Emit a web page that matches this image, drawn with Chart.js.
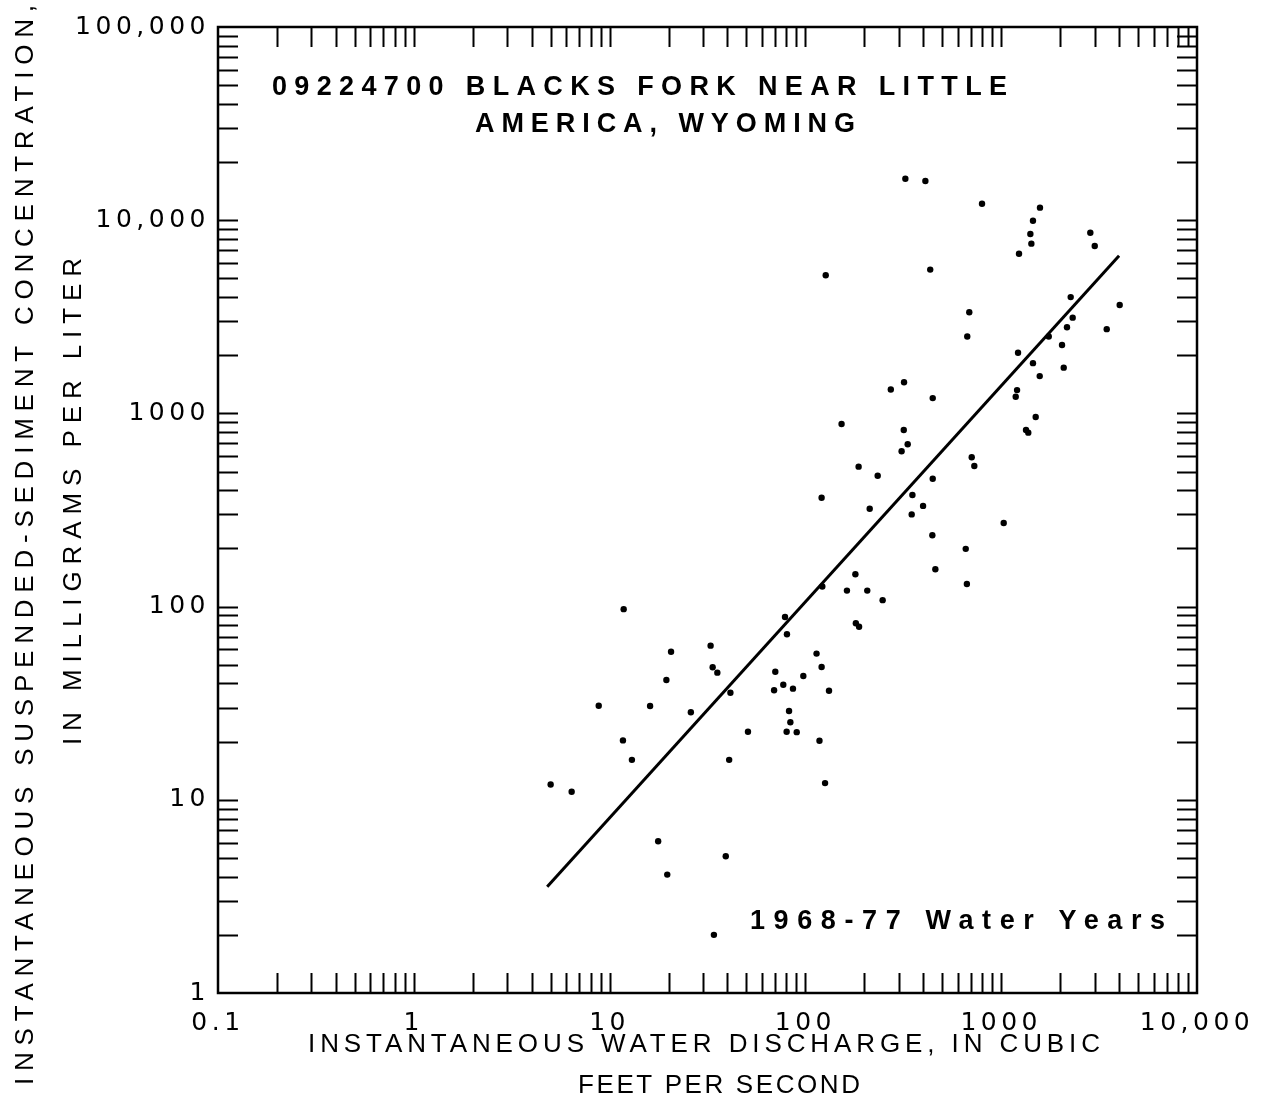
<!DOCTYPE html>
<html>
<head>
<meta charset="utf-8">
<script src="https://cdn.jsdelivr.net/npm/chart.js@4.4.0/dist/chart.umd.min.js"></script>
<style>
  html, body { margin: 0; padding: 0; background: #fff; }
  #chart { display: block; }
</style>
</head>
<body>
<canvas id="chart" width="1268" height="1102"></canvas>
<script>
// Instantaneous water discharge (cfs)
const discharge = [
    5.0, 6.4, 8.8, 11.7, 13.0, 16.1, 19.5, 20.6, 26.0, 32.8,
    33.6, 35.5, 41.4, 40.8, 50.9, 17.7, 19.7, 39.2, 34.1, 11.8,
    461, 180, 122, 163, 207, 248, 78.7, 80.5, 181, 188,
    114, 121, 70.2, 97.6, 77.1, 69.2, 86.4, 132, 82.5, 83.8,
    80.2, 90.3, 118, 126,
    324, 410, 798, 127, 434, 687, 671, 319, 273, 447,
    153, 318, 333, 310, 187, 234, 707, 729, 121, 213,
    447, 352, 399, 349, 445, 659, 668,
    1578, 1453, 1409, 1426, 1233, 2852, 3004, 2264, 4028, 2318,
    2168, 3459, 1749, 2045, 1219, 1453, 2086, 1573, 1205, 1186,
    1500, 1339, 1375, 1030
];
// Instantaneous suspended-sediment concentration (mg/L), same order
const concentration = [
    12.0, 11.0, 30.7, 20.3, 16.1, 30.6, 41.7, 58.4, 28.4, 62.8,
    48.5, 45.5, 35.8, 16.1, 22.5, 6.1, 4.1, 5.1, 2.0, 97,
    156, 147, 127, 121, 121, 108, 88.3, 71.9, 82, 78.7,
    57.1, 48.7, 46.0, 43.7, 39.4, 36.9, 37.6, 36.7, 28.8, 25.2,
    22.5, 22.4, 20.2, 12.2,
    16400, 15950, 12170, 5190, 5550, 3340, 2500, 1450, 1330, 1200,
    881, 820, 692, 637, 530, 476, 593, 534, 366, 321,
    459, 378, 332, 300, 234, 199, 131,
    11610, 9940, 8490, 7560, 6710, 8610, 7350, 4000, 3640, 3130,
    2790, 2730, 2500, 2260, 2060, 1820, 1725, 1560, 1320, 1220,
    958, 820, 795, 271
];

// transport curve end points
const fitDischarge = [4.8, 4000];
const fitConcentration = [3.55, 6550];

const xTickValues = [0.1, 1, 10, 100, 1000, 10000];
const xTickLabels = ['0.1', '1', '10', '100', '1000', '10,000'];
const yTickValues = [1, 10, 100, 1000, 10000, 100000];
const yTickLabels = ['1', '10', '100', '1000', '10,000', '100,000'];

const stationTitle = ['09224700 BLACKS FORK NEAR LITTLE', 'AMERICA, WYOMING'];
const periodLabel = '1968-77 Water Years';
const xTitle = ['INSTANTANEOUS WATER DISCHARGE, IN CUBIC', 'FEET PER SECOND'];
const yTitle = ['INSTANTANEOUS SUSPENDED-SEDIMENT CONCENTRATION,', 'IN MILLIGRAMS PER LITER'];

const points = discharge.map((q, i) => ({x: q, y: concentration[i]}));
const fitLine = fitDischarge.map((q, i) => ({x: q, y: fitConcentration[i]}));

// stretch a string over a given width (old lettering-guide look)
function spacedText(ctx, text, x, y, width) {
    ctx.letterSpacing = '0px';
    const w = ctx.measureText(text).width;
    const gap = (width - w) / (text.length - 1);
    ctx.letterSpacing = gap + 'px';
    ctx.textAlign = 'left';
    ctx.fillText(text, x, y);
    ctx.letterSpacing = '0px';
}

// frame, inward log tick marks on all four sides, and the lettering
const framePlugin = {
    id: 'frame',
    beforeDraw(chart) {
        // spacing for the tick labels drawn by the scales
        chart.ctx.letterSpacing = '4.5px';
    },
    afterDraw(chart) {
        const {ctx, chartArea: a, scales: {x, y}} = chart;
        const len = 20;
        ctx.save();
        ctx.letterSpacing = '0px';
        ctx.strokeStyle = '#000';
        ctx.fillStyle = '#000';

        ctx.lineWidth = 2;
        ctx.beginPath();
        for (let e = -1; e <= 3; e++) {
            for (let m = 2; m <= 10; m++) {
                const px = Math.round(x.getPixelForValue(m * Math.pow(10, e))) + 0.5;
                if (px >= a.right - 2) continue;
                ctx.moveTo(px, a.bottom); ctx.lineTo(px, a.bottom - len);
                ctx.moveTo(px, a.top); ctx.lineTo(px, a.top + len);
            }
        }
        for (let e = 0; e <= 4; e++) {
            for (let m = 2; m <= 10; m++) {
                const py = Math.round(y.getPixelForValue(m * Math.pow(10, e))) + 0.5;
                if (py <= a.top + 2) continue;
                ctx.moveTo(a.left, py); ctx.lineTo(a.left + len, py);
                ctx.moveTo(a.right, py); ctx.lineTo(a.right - len, py);
            }
        }
        ctx.stroke();

        ctx.lineWidth = 2.5;
        ctx.strokeRect(a.left, a.top, a.right - a.left, a.bottom - a.top);

        // station name and period inside the plot
        ctx.font = 'bold 27px "Liberation Sans"';
        ctx.textBaseline = 'alphabetic';
        spacedText(ctx, stationTitle[0], a.left + 54, a.top + 68, 735);
        spacedText(ctx, stationTitle[1], a.left + 257, a.top + 105, 380);
        spacedText(ctx, periodLabel, a.left + 532, a.top + 902, 415);

        // axis titles
        ctx.font = '26px "Liberation Sans"';
        spacedText(ctx, xTitle[0], 308, 1052, 792);
        spacedText(ctx, xTitle[1], 578, 1093, 282);

        ctx.save();
        ctx.translate(33, 1085);
        ctx.rotate(-Math.PI / 2);
        spacedText(ctx, yTitle[0], 0, 0, 1080);
        ctx.restore();
        ctx.save();
        ctx.translate(81, 745);
        ctx.rotate(-Math.PI / 2);
        spacedText(ctx, yTitle[1], 0, 0, 487);
        ctx.restore();

        ctx.restore();
    }
};

new Chart(document.getElementById('chart'), {
    type: 'scatter',
    data: {
        datasets: [
            {
                label: 'Samples',
                data: points,
                pointRadius: 3.2,
                pointBackgroundColor: '#000',
                pointBorderWidth: 0,
                showLine: false
            },
            {
                label: 'Transport curve',
                data: fitLine,
                type: 'line',
                borderColor: '#000',
                borderWidth: 3,
                pointRadius: 0,
                fill: false
            }
        ]
    },
    options: {
        responsive: false,
        animation: false,
        devicePixelRatio: 1,
        layout: {padding: {left: 0, top: 27, right: 71, bottom: 0}},
        plugins: {legend: {display: false}, tooltip: {enabled: false}},
        scales: {
            x: {
                type: 'logarithmic',
                position: 'bottom',
                min: 0.1,
                max: 10000,
                afterBuildTicks: s => { s.ticks = xTickValues.map(v => ({value: v})); },
                afterFit: s => { s.height = 109; s.paddingLeft = 0; s.paddingRight = 0; },
                grid: {display: false, drawTicks: false},
                border: {display: false},
                ticks: {
                    autoSkip: false,
                    maxRotation: 0,
                    padding: 15,
                    color: '#000',
                    font: {family: 'DejaVu Sans', size: 25},
                    callback: (v, i) => xTickLabels[i]
                }
            },
            y: {
                type: 'logarithmic',
                position: 'left',
                min: 1,
                max: 100000,
                afterBuildTicks: s => { s.ticks = yTickValues.map(v => ({value: v})); },
                afterFit: s => { s.width = 218; s.paddingTop = 0; s.paddingBottom = 0; },
                grid: {display: false, drawTicks: false},
                border: {display: false},
                ticks: {
                    autoSkip: false,
                    padding: 8,
                    color: '#000',
                    font: {family: 'DejaVu Sans', size: 25},
                    callback: (v, i) => yTickLabels[i]
                }
            }
        }
    },
    plugins: [framePlugin]
});
</script>
</body>
</html>
